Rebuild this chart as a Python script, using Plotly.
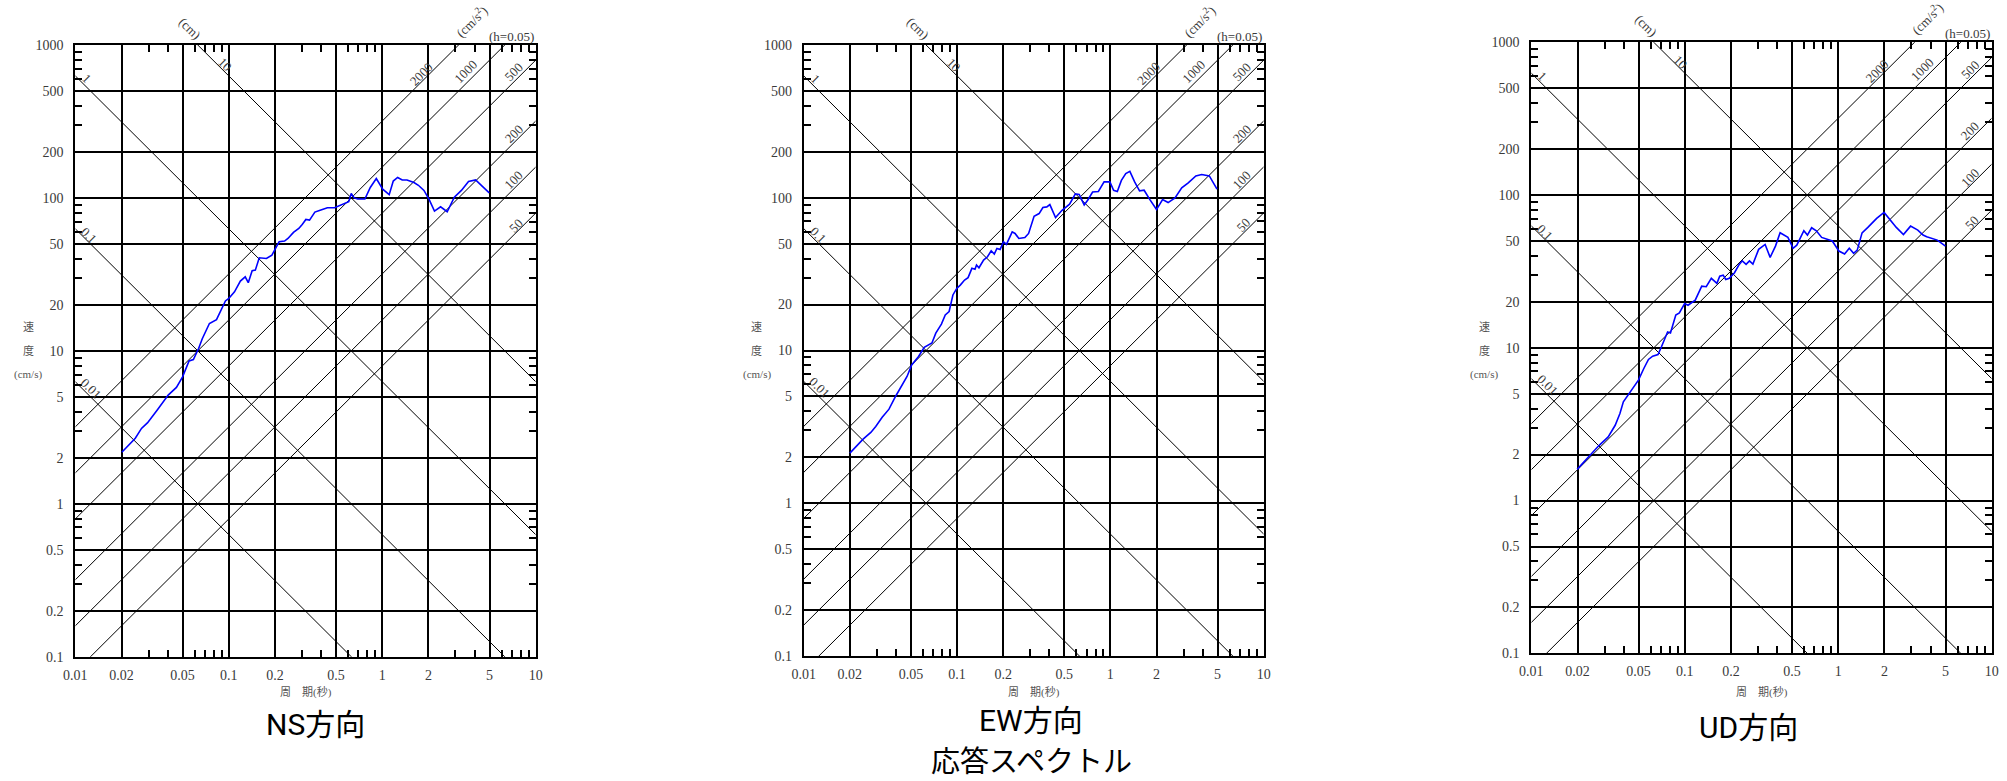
import math
import plotly.graph_objects as go

# ---------------- data ----------------
PERIOD_TICKS = [0.01, 0.02, 0.05, 0.1, 0.2, 0.5, 1, 2, 5, 10]
PERIOD_TICK_TEXT = ["0.01", "0.02", "0.05", "0.1", "0.2", "0.5", "1", "2", "5", "10"]
VEL_TICKS = [0.1, 0.2, 0.5, 1, 2, 5, 10, 20, 50, 100, 200, 500, 1000]
VEL_TICK_TEXT = ["0.1", "0.2", "0.5", "1", "2", "5", "10", "20", "50", "100", "200", "500", "1000"]
PERIOD_MINOR = [0.03, 0.04, 0.06, 0.07, 0.08, 0.09, 0.3, 0.4, 0.6, 0.7, 0.8, 0.9,
                3, 4, 6, 7, 8, 9]
VEL_MINOR = [0.3, 0.4, 0.6, 0.7, 0.8, 0.9, 3, 4, 6, 7, 8, 9, 30, 40, 60, 70, 80, 90,
             300, 400, 600, 700, 800, 900]

DISP_LINES_CM = [0.01, 0.1, 1, 10]
ACC_LINES_CMS2 = [50, 100, 200, 500, 1000, 2000]

NS_T = [0.0201, 0.0246, 0.027, 0.0296, 0.0344, 0.0403, 0.0456, 0.05, 0.0551, 0.0588,
        0.0637, 0.0672, 0.0748, 0.0832, 0.0951, 0.1, 0.109, 0.119, 0.128, 0.134,
        0.142, 0.149, 0.158, 0.176, 0.191, 0.201, 0.213, 0.231, 0.243, 0.264,
        0.286, 0.301, 0.318, 0.336, 0.364, 0.394, 0.439, 0.489, 0.530, 0.574,
        0.605, 0.628, 0.656, 0.692, 0.771, 0.836, 0.915, 1.007, 1.11, 1.18,
        1.26, 1.35, 1.45, 1.61, 1.72, 1.87, 2.02, 2.19, 2.40, 2.65,
        2.95, 3.28, 3.65, 4.06, 4.53, 4.98]
NS_V = [2.17, 2.68, 3.11, 3.39, 4.14, 5.14, 5.77, 6.76, 8.6, 8.78,
        10.4, 12.0, 15.1, 16.0, 21.2, 22.0, 24.3, 28.6, 30.5, 27.9,
        33.4, 33.7, 40.6, 40.2, 42.3, 46.8, 51.7, 52.2, 54.3, 59.5,
        63.1, 67.1, 72.3, 71.6, 80.8, 83.2, 86.2, 86.2, 88.9, 92.5,
        94.4, 107, 100, 98.3, 98.3, 117, 134, 114, 105, 129,
        136, 131, 131, 126, 121, 112, 97.7, 82, 87.5, 81.2,
        101, 112, 128, 131, 118, 108]

EW_T = [0.02, 0.0244, 0.0274, 0.0295, 0.0325, 0.036, 0.0397, 0.0433, 0.0472, 0.0506,
        0.0561, 0.0611, 0.0686, 0.0727, 0.0791, 0.0838, 0.0888, 0.094, 0.0996, 0.105,
        0.112, 0.118, 0.125, 0.131, 0.134, 0.139, 0.149, 0.158, 0.167, 0.175,
        0.182, 0.191, 0.201, 0.21, 0.229, 0.239, 0.253, 0.277, 0.293, 0.318,
        0.343, 0.363, 0.385, 0.403, 0.439, 0.484, 0.542, 0.591, 0.626, 0.675,
        0.711, 0.766, 0.835, 0.91, 0.993, 1.05, 1.11, 1.18, 1.26, 1.34,
        1.44, 1.55, 1.66, 1.81, 2.0, 2.19, 2.38, 2.64, 2.92, 3.22,
        3.61, 3.94, 4.42, 4.96]
EW_V = [2.13, 2.63, 2.91, 3.18, 3.66, 4.13, 5.0, 5.83, 6.76, 8.05,
        9.14, 10.5, 11.2, 13.0, 14.9, 17.1, 18.0, 23.1, 25.5, 26.8,
        28.9, 30.0, 34.5, 34.0, 36.3, 34.8, 39.1, 41.1, 45.0, 42.8,
        46.6, 45.9, 51.5, 49.5, 59.8, 58.4, 54.1, 54.9, 58.4, 75.7,
        78.8, 86.3, 87.1, 90.2, 74.1, 82.8, 90.7, 106, 105, 89.8,
        96.4, 109, 110, 127, 127, 112, 110, 130, 144, 149,
        127, 111, 112, 97.3, 83.7, 97.3, 93, 99.8, 116, 125,
        139, 142, 139, 114]

UD_T = [0.0199, 0.0224, 0.0249, 0.0277, 0.0317, 0.0352, 0.0378, 0.0398, 0.0436, 0.0499,
        0.0541, 0.058, 0.0618, 0.0669, 0.0706, 0.0745, 0.0773, 0.0807, 0.0874, 0.0922,
        0.0998, 0.105, 0.117, 0.129, 0.138, 0.149, 0.162, 0.169, 0.178, 0.185,
        0.195, 0.211, 0.225, 0.237, 0.251, 0.264, 0.278, 0.303, 0.334, 0.36,
        0.39, 0.418, 0.47, 0.508, 0.537, 0.597, 0.63, 0.671, 0.72, 0.78,
        0.845, 0.915, 1.01, 1.1, 1.18, 1.26, 1.33, 1.43, 1.56, 1.78,
        1.99, 2.15, 2.39, 2.66, 2.96, 3.3, 3.57, 3.77, 4.42, 5.0]
UD_V = [1.60, 1.84, 2.05, 2.30, 2.61, 3.11, 3.71, 4.43, 5.07, 6.14,
        7.32, 8.39, 8.82, 9.04, 10.2, 11.8, 12.7, 12.5, 16.4, 16.9,
        19.5, 19.0, 20.5, 25.3, 25.1, 28.5, 26.4, 29.4, 29.9, 28.0,
        28.5, 31.0, 34.8, 37.1, 35.2, 37.1, 35.3, 44.1, 47.5, 39.1,
        46.3, 56.6, 52.8, 44.8, 47.0, 58.4, 54.7, 61.1, 58.4, 52.8,
        51.5, 50.0, 43.0, 41.1, 44.8, 41.5, 43.6, 56.6, 61.4, 70.3,
        76.9, 70.3, 61.4, 55.2, 62.6, 59.0, 54.7, 53.3, 50.7, 46.3]

# panel titles: list of (text line, centre y px, font family, size)
LATIN_CJK = "Roboto, Noto Sans CJK JP"
CJK = "Noto Sans CJK JP"
TITLES = [[("NS方向", 724, LATIN_CJK, 30)],
          [("EW方向", 720, LATIN_CJK, 30), ("応答スペクトル", 759, CJK, 29)],
          [("UD方向", 727, LATIN_CJK, 30)]]

# ---------------- layout constants ----------------
W, H = 2007, 781
PANELS = [
    # (left px, right px, top px, bottom px, title centre x px)
    (75.3, 535.7, 45.0, 656.7, 315),
    (803.7, 1263.7, 45.0, 656.0, 1031),
    (1531.3, 1991.7, 42.3, 653.3, 1748),
]
SERIES = [(NS_T, NS_V), (EW_T, EW_V), (UD_T, UD_V)]


def px_x(px):
    return px / W


def px_y(py):
    return 1 - py / H


SERIF = "Liberation Serif, Noto Sans CJK JP"
LABEL_GREY = "#3a3a3a"

fig = go.Figure()
annotations = []
layout = dict(width=W, height=H,
              margin=dict(l=0, r=0, t=0, b=0, pad=0, autoexpand=False),
              paper_bgcolor="white", plot_bgcolor="white", showlegend=False)

T_MIN, T_MAX = 0.01, 10.0
V_LOG_MIN, V_LOG_MAX = -1, 3
TWO_PI = 2 * math.pi

for i, (pan, (ts, vs), title) in enumerate(zip(PANELS, SERIES, TITLES)):
    n = "" if i == 0 else str(i + 1)
    xa, ya = "x" + n, "y" + n
    left, right, top, bottom, tcx = pan

    # displacement lines (V = 2*pi*D/T)
    dx, dy = [], []
    for d in DISP_LINES_CM:
        dx += [T_MIN, T_MAX, None]
        dy += [TWO_PI * d / T_MIN, TWO_PI * d / T_MAX, None]
    fig.add_trace(go.Scatter(x=dx, y=dy, mode="lines", xaxis=xa, yaxis=ya,
                             line=dict(color="black", width=1), hoverinfo="skip"))
    # acceleration lines (V = A*T/(2*pi))
    ax_, ay_ = [], []
    for a in ACC_LINES_CMS2:
        ax_ += [T_MIN, T_MAX, None]
        ay_ += [a * T_MIN / TWO_PI, a * T_MAX / TWO_PI, None]
    fig.add_trace(go.Scatter(x=ax_, y=ay_, mode="lines", xaxis=xa, yaxis=ya,
                             line=dict(color="black", width=1), hoverinfo="skip"))
    # response spectrum
    fig.add_trace(go.Scatter(x=ts, y=vs, mode="lines", xaxis=xa, yaxis=ya,
                             line=dict(color="#0000ff", width=1.6)))

    common = dict(type="log", showgrid=True, gridcolor="#000000", gridwidth=1.7,
                  showline=True, linecolor="black", linewidth=2, mirror="ticks",
                  ticks="", zeroline=False, automargin=False,
                  tickfont=dict(family=SERIF, size=14, color=LABEL_GREY))
    layout["xaxis" + n] = dict(common, range=[-2, 1], tickvals=PERIOD_TICKS,
                               ticktext=PERIOD_TICK_TEXT, anchor=ya,
                               domain=[px_x(left), px_x(right)], ticklabelstandoff=4,
                               minor=dict(tickvals=PERIOD_MINOR, ticks="inside", ticklen=7,
                                          tickwidth=1.5, tickcolor="black", showgrid=False))
    layout["yaxis" + n] = dict(common, range=[V_LOG_MIN, V_LOG_MAX], tickvals=VEL_TICKS,
                               ticktext=VEL_TICK_TEXT, anchor=xa,
                               domain=[px_y(bottom), px_y(top)], ticklabelstandoff=7,
                               minor=dict(tickvals=VEL_MINOR, ticks="inside", ticklen=7,
                                          tickwidth=1.5, tickcolor="black", showgrid=False))

    def lab(text, t, v, angle, xanchor="center", size=13):
        # x in data coords, y as fraction of the plot height (works outside the range)
        yd = (math.log10(v) - V_LOG_MIN) / (V_LOG_MAX - V_LOG_MIN)
        annotations.append(dict(text=text, x=math.log10(t), y=yd,
                                xref=xa, yref=ya + " domain", showarrow=False,
                                textangle=angle, xanchor=xanchor, yanchor="middle",
                                font=dict(family=SERIF, size=size, color=LABEL_GREY)))

    # labels of the tripartite grid
    lab("(cm)", 0.0559, 1291, 45)
    lab("10", 0.0944, 740, 45)
    lab("1", 0.01186, 600, 45)
    lab("0.1", 0.01233, 57.2, 45)
    lab("0.01", 0.01268, 5.71, 45)
    lab("(cm/s<sup>2</sup>)", 3.8, 1443, -45)
    lab("2000", 1.78, 646, -45)
    lab("1000", 3.51, 668, -45)
    lab("500", 7.24, 668, -45)
    lab("200", 7.24, 264, -45)
    lab("100", 7.24, 131, -45)
    lab("50", 7.43, 66.5, -45)
    lab("(h=0.05)", 10, 1145, 0, xanchor="right")

    # axis titles
    for txt, py in (("速", 327), ("度", 351), ("(cm/s)", 375)):
        annotations.append(dict(text=txt, x=px_x(left - 47), y=px_y(py),
                                xref="paper", yref="paper", showarrow=False,
                                xanchor="center", yanchor="middle",
                                font=dict(family=SERIF, size=11, color="#555555")))
    annotations.append(dict(text="周　期(秒)", x=px_x((left + right) / 2), y=px_y(692),
                            xref="paper", yref="paper", showarrow=False,
                            xanchor="center", yanchor="middle",
                            font=dict(family=SERIF, size=11, color="#555555")))
    # panel title
    for txt, ty, fam, fsize in title:
        annotations.append(dict(text=txt, x=px_x(tcx), y=px_y(ty),
                                xref="paper", yref="paper", showarrow=False,
                                xanchor="center", yanchor="middle",
                                font=dict(family=fam, size=fsize, color="black")))

layout["annotations"] = annotations
fig.update_layout(**layout)
# remove the browser's default page margin so the figure sits at the window origin
fig.write_html("out.html",
               config={"displayModeBar": False},
               post_script="document.body.style.margin='0';"
                           "document.body.style.overflow='hidden';")
